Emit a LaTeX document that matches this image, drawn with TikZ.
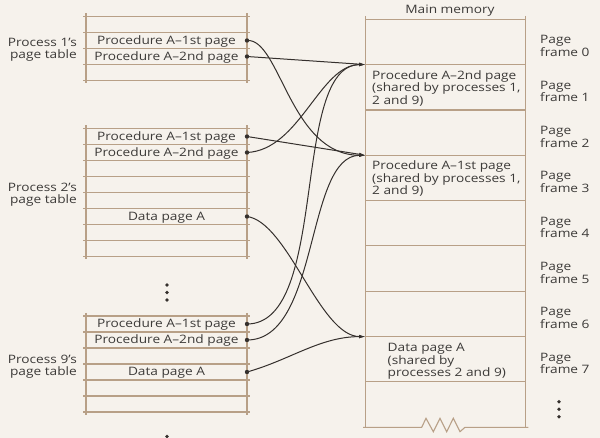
\documentclass[tikz,border=0pt]{standalone}
\usepackage{fontspec}
\setmainfont{Open Sans}[FakeStretch=1.18]
\usetikzlibrary{arrows.meta}
\definecolor{bg}{HTML}{F6F2EC}
\definecolor{tanline}{HTML}{B8A087}
\definecolor{ink}{HTML}{35302D}
\definecolor{txt}{HTML}{3C3A38}
\begin{document}
\begin{tikzpicture}[x=1pt,y=-1pt,
  grid/.style={draw=tanline, line width=1.1pt},
  conn/.style={draw=ink, line width=1pt, -{Latex[length=6.5pt,width=3.4pt]}},
  dotnode/.style={circle, fill=ink, inner sep=0pt, minimum size=4.4pt},
  smalldot/.style={circle, fill=ink, inner sep=0pt, minimum size=3.8pt},
  cell/.style={font=\fontsize{11.6}{12.5}\selectfont, text=txt, inner sep=0pt},
  plabel/.style={cell, align=right, anchor=east, font=\fontsize{11.6}{11.7}\selectfont},
  flabel/.style={cell, align=left, anchor=west, font=\fontsize{11.6}{11}\selectfont},
  mtext/.style={cell, align=left, anchor=west, font=\fontsize{11.6}{12.6}\selectfont}]
\fill[bg] (0,0) rectangle (600,438);
\useasboundingbox (0,0) rectangle (600,438);

% ---------- page tables ----------
\foreach \y in {16.5,32.5,...,80.5} \draw[grid] (83,\y) -- (250,\y);
\draw[grid] (86,13.5) -- (86,83.5);
\draw[grid] (247,13.5) -- (247,83.5);

\foreach \y in {128.5,144.5,...,256.5} \draw[grid] (83,\y) -- (250,\y);
\draw[grid] (86,125.5) -- (86,259.5);
\draw[grid] (247,125.5) -- (247,259.5);

\foreach \y in {316,332,...,412} \draw[grid] (83,\y) -- (250,\y);
\draw[grid] (86,313) -- (86,415);
\draw[grid] (247,313) -- (247,415);

% ---------- main memory ----------
\foreach \k in {0,...,8} \draw[grid] (365.7,{19.3+45.33*\k}) -- (525.7,{19.3+45.33*\k});
\draw[grid] (365.7,16) -- (365.7,427.3);
\draw[grid] (525.7,16) -- (525.7,427.3);
\draw[grid] (363,427.3) -- (421.7,427.3) -- (426,418.3) -- (433.3,431.7) -- (440,418.3)
  -- (446.7,431.7) -- (453.3,418.3) -- (460,431.7) -- (465,427.3) -- (528.3,427.3);

% ---------- texts ----------
\node[cell, anchor=base] (mm) at (450,14) {Main memory};

\node[plabel] (p1) at (77,50) {Process 1’s\\page table};
\node[plabel] (p2) at (77,195) {Process 2’s\\page table};
\node[plabel] (p9) at (77,366.5) {Process 9’s\\page table};

\node[cell, anchor=base] (ta1) at (166.5,44.3) {Procedure A–1st page};
\node[cell, anchor=base] (ta2) at (166.5,60.3) {Procedure A–2nd page};
\node[cell, anchor=base] (tb1) at (166.5,140.3) {Procedure A–1st page};
\node[cell, anchor=base] (tb2) at (166.5,156.3) {Procedure A–2nd page};
\node[cell, anchor=base] (tb6) at (166.5,220.3) {Data page A};
\node[cell, anchor=base] (tc1) at (166.5,327.8) {Procedure A–1st page};
\node[cell, anchor=base] (tc2) at (166.5,343.8) {Procedure A–2nd page};
\node[cell, anchor=base] (tc4) at (166.5,375.8) {Data page A};

\node[mtext] (m1) at (372,88.3) {Procedure A–2nd page\\(shared by processes 1,\\2 and 9)};
\node[mtext] (m3) at (372,178.9) {Procedure A–1st page\\(shared by processes 1,\\2 and 9)};
\node[mtext] (m7) at (387.5,361.3) {Data page A\\(shared by\\processes 2 and 9)};

\foreach \k in {0,...,7}
  \node[flabel] (fl\k) at (540,{19.3+45.33*\k+22.67+4}) {Page\\frame \k};

% ---------- ellipses ----------
\node[smalldot] (e1) at (167,285) {};
\node[smalldot] (e2) at (167,292.5) {};
\node[smalldot] (e3) at (167,300) {};
\node[smalldot] (e4) at (167,436.5) {};
\node[smalldot] (r1) at (559,401.7) {};
\node[smalldot] (r2) at (559,409.2) {};
\node[smalldot] (r3) at (559,416.7) {};

% ---------- pointers ----------
\node[dotnode] (a1) at (247,40.5) {};
\node[dotnode] (a2) at (247,56.5) {};
\node[dotnode] (b1) at (247,136.5) {};
\node[dotnode] (b2) at (247,152.5) {};
\node[dotnode] (b6) at (247,216.5) {};
\node[dotnode] (c1) at (247,324) {};
\node[dotnode] (c2) at (247,340) {};
\node[dotnode] (c4) at (247,372) {};
\coordinate (f1) at (365.7,64.6);
\coordinate (f3) at (365.7,155.3);
\coordinate (f7) at (365.7,336.6);

\draw[conn] (a1.center) .. controls +(33,-2.5) and +(-75.7,0) .. (f3);
\draw[conn] (a2.center) -- (f1);
\draw[conn] (b1.center) -- (f3);
\draw[conn] (b2.center) .. controls +(53,-2.5) and +(-46,0) .. (f1);
\draw[conn] (b6.center) .. controls +(41,5.5) and +(-46,0) .. (f7);
\draw[conn] (c1.center) .. controls +(83,0) and +(-75.7,0) .. (f1);
\draw[conn] (c2.center) .. controls +(73,0) and +(-60.7,0) .. (f3);
\draw[conn] (c4.center) .. controls +(43,-12) and +(-45.7,0) .. (f7);
\end{tikzpicture}
\end{document}
